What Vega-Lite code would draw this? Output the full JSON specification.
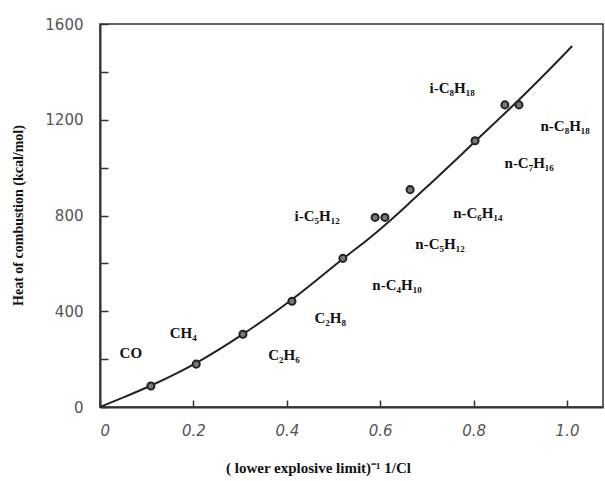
{
  "$schema": "https://vega.github.io/schema/vega-lite/v6.json",
  "autosize": "none",
  "width": 503,
  "height": 383,
  "padding": {"left": 100, "top": 24, "right": 2, "bottom": 74},
  "background": "white",
  "config": {
    "view": {"stroke": "#333", "strokeWidth": 1.5},
    "axis": {
      "grid": false,
      "domainColor": "#333",
      "domainWidth": 2,
      "tickColor": "#333",
      "tickWidth": 1.5,
      "labelFont": "DejaVu Sans",
      "labelFontSize": 15,
      "labelColor": "#555",
      "titleFont": "Liberation Serif",
      "titleFontWeight": "bold",
      "titleColor": "#111"
    }
  },
  "datasets": {
    "curve": [
      {"x": 0, "y": 0},
      {"x": 0.05, "y": 40},
      {"x": 0.109, "y": 88},
      {"x": 0.206, "y": 179},
      {"x": 0.306, "y": 302},
      {"x": 0.411, "y": 444},
      {"x": 0.52, "y": 621},
      {"x": 0.563, "y": 682},
      {"x": 0.6, "y": 742},
      {"x": 0.636, "y": 804},
      {"x": 0.67, "y": 866},
      {"x": 0.707, "y": 932},
      {"x": 0.743, "y": 998},
      {"x": 0.777, "y": 1060},
      {"x": 0.803, "y": 1110},
      {"x": 0.88, "y": 1250},
      {"x": 0.95, "y": 1385},
      {"x": 1.011, "y": 1508}
    ],
    "points": [
      {"x": 0.109, "y": 88},
      {"x": 0.206, "y": 179},
      {"x": 0.306, "y": 304},
      {"x": 0.411, "y": 442},
      {"x": 0.52, "y": 621},
      {"x": 0.589, "y": 792},
      {"x": 0.61, "y": 792},
      {"x": 0.664, "y": 908},
      {"x": 0.803, "y": 1112},
      {"x": 0.867, "y": 1262},
      {"x": 0.897, "y": 1262}
    ],
    "labels": [
      {"x": 0.066, "y": 225, "name": "CO"},
      {"x": 0.178, "y": 308, "name": "CH₄"},
      {"x": 0.394, "y": 217, "name": "C₂H₆"},
      {"x": 0.493, "y": 371, "name": "C₂H₈"},
      {"x": 0.636, "y": 508, "name": "n-C₄H₁₀"},
      {"x": 0.465, "y": 796, "name": "i-C₅H₁₂"},
      {"x": 0.728, "y": 683, "name": "n-C₅H₁₂"},
      {"x": 0.809, "y": 812, "name": "n-C₆H₁₄"},
      {"x": 0.919, "y": 1021, "name": "n-C₇H₁₆"},
      {"x": 0.754, "y": 1333, "name": "i-C₈H₁₈"},
      {"x": 0.996, "y": 1175, "name": "n-C₈H₁₈"}
    ]
  },
  "encoding": {
    "x": {
      "field": "x",
      "type": "quantitative",
      "scale": {"domain": [0, 1.077], "nice": false, "zero": false},
      "axis": {
        "values": [0, 0.2, 0.4, 0.6, 0.8, 1.0],
        "labelExpr": "datum.value == 0 ? '0' : format(datum.value, '.1f')",
        "tickSize": -7,
        "labelPadding": 23,
        "labelFontStyle": "italic",
        "title": "( lower explosive limit)⁻¹ 1/Cl",
        "titleFontSize": 15,
        "titleX": 218,
        "titleY": 60,
        "titleBaseline": "middle"
      }
    },
    "y": {
      "field": "y",
      "type": "quantitative",
      "scale": {"domain": [0, 1600], "nice": false},
      "axis": {
        "values": [0, 200, 400, 600, 800, 1000, 1200, 1400, 1600],
        "labelExpr": "datum.value % 400 == 0 ? format(datum.value, 'd') : ''",
        "tickSize": -8,
        "labelPadding": 25,
        "title": "Heat of combustion (kcal/mol)",
        "titleFontSize": 14,
        "titleX": -82,
        "titleY": 191,
        "titleBaseline": "middle"
      }
    }
  },
  "layer": [
    {
      "data": {"name": "curve"},
      "mark": {"type": "line", "color": "#222", "strokeWidth": 2, "interpolate": "basis"}
    },
    {
      "data": {"name": "points"},
      "mark": {"type": "point", "shape": "circle", "filled": true, "size": 50, "fill": "#777", "stroke": "#222", "strokeWidth": 2, "opacity": 1}
    },
    {
      "data": {"name": "labels"},
      "mark": {"type": "text", "font": "Liberation Serif", "fontWeight": "bold", "fontSize": 15, "color": "#111", "align": "center", "baseline": "middle"},
      "encoding": {"text": {"field": "name"}}
    }
  ]
}
